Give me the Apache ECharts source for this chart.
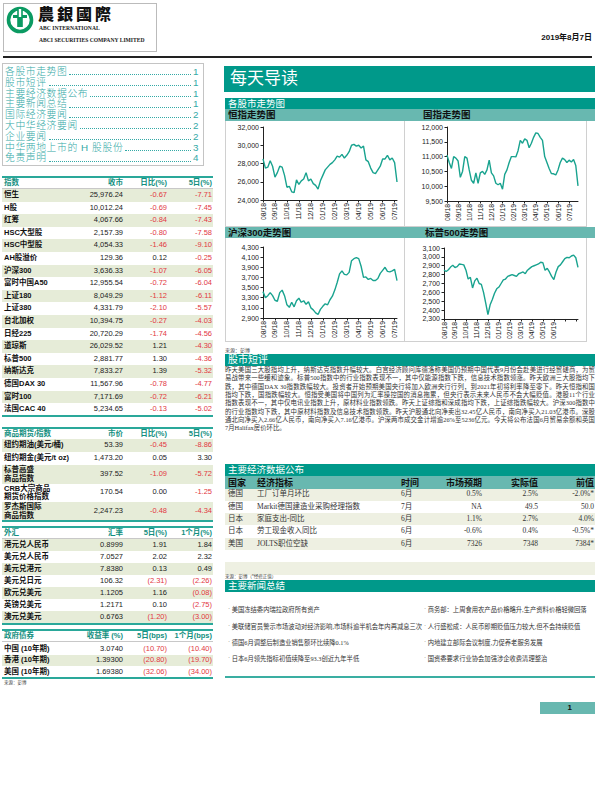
<!DOCTYPE html>
<html><head><meta charset="utf-8">
<script src="https://cdn.jsdelivr.net/npm/echarts@6/dist/echarts.min.js"></script>
<style>
*{margin:0;padding:0;box-sizing:border-box}
body{width:612px;height:792px;position:relative;background:#fff;font-family:Arial,"Liberation Sans","Noto Sans CJK SC",sans-serif;color:#222;overflow:hidden}
.chart{position:absolute}
</style></head>
<body>
<script>
// ---------- DATA ----------
const monthLabels = ['08/18','09/18','10/18','11/18','12/18','01/19','02/19','03/19','04/19','05/19','06/19','07/19'];
const spxMonthLabels = ['08/18','09/18','10/18','11/18','12/18','01/19','02/19','03/19','04/19','05/19','06/19'];
const hsiValues = [28500,27500,27600,28300,27700,26500,27000,27700,27600,26700,25400,25500,24900,24800,26200,25700,26100,26300,27000,26100,26300,25800,25600,25200,26100,26700,27300,27600,27900,28100,28400,28800,28700,29000,28600,28900,29300,30000,30100,29900,30000,29700,29900,28400,28200,27500,27000,26900,27300,27700,28500,28500,28900,28400,28600,28100,25976];
const hsceiValues = [11050,10800,10600,11000,10950,10850,10300,10500,11000,10950,10550,10200,10100,10450,10100,10450,10500,10400,10550,10880,10450,10350,10100,10050,10100,9900,10400,10550,10800,11000,11000,10990,11200,11550,11450,11600,11550,11300,11450,11650,11800,11780,11650,11550,11000,10800,10600,10430,10420,10380,10550,10800,10950,10900,10800,10880,10820,10900,10700,10012];
const csi300Values = [3420,3300,3340,3400,3340,3250,3230,3400,3450,3340,3160,3110,3210,3120,3240,3290,3210,3240,3170,3220,3100,3060,3000,2970,3070,3130,3180,3160,3260,3330,3450,3600,3770,3830,3760,3750,3800,4030,4070,4090,4070,3920,3700,3710,3660,3680,3640,3640,3680,3780,3840,3900,3820,3810,3830,3860,3636];
const spxValues = [2850,2835,2855,2885,2905,2880,2890,2920,2915,2910,2850,2750,2770,2650,2730,2760,2700,2690,2600,2480,2350,2460,2520,2590,2640,2660,2700,2740,2750,2780,2790,2800,2790,2780,2810,2820,2830,2810,2850,2870,2890,2900,2910,2920,2940,2935,2850,2870,2830,2780,2745,2830,2890,2910,2945,2980,2995,2990,3010,3020,2990,2882];

const tocItems = ['各股市走势图','股市短评','主要经济数据公布','主要新闻总结','国际经济要闻','大中华经济要闻','企业要闻','中华两地上市的 H 股股份','免责声明'];
const tocPages = ['1','1','1','1','2','2','2','3','4'];

const idxNames = ['恒生','H股','红筹','HSC大型股','HSC中型股','AH股溢价','沪深300','富时中国A50','上证180','上证380','台北加权','日经225','道琼斯','标普500','纳斯达克','德国DAX 30','富时100','法国CAC 40'];
const idxClose = ['25,976.24','10,012.24','4,067.66','2,157.39','4,054.33','129.36','3,636.33','12,955.54','8,049.29','4,331.79','10,394.75','20,720.29','26,029.52','2,881.77','7,833.27','11,567.96','7,171.69','5,234.65'];
const idxDay = [-0.67,-0.69,-0.84,-0.80,-1.46,0.12,-1.07,-0.72,-1.12,-2.10,-0.27,-1.74,1.21,1.30,1.39,-0.78,-0.72,-0.13];
const idx5d = [-7.71,-7.45,-7.43,-7.58,-9.10,-0.25,-6.05,-6.04,-6.11,-5.57,-4.03,-4.56,-4.30,-4.36,-5.32,-4.77,-6.21,-5.02];

const cmdNames = [['纽约期油(美元/桶)'],['纽约期金(美元/t oz)'],['标普高盛','商品指数'],['CRB大宗商品','期货价格指数'],['罗杰斯国际','商品指数']];
const cmdPrice = ['53.39','1,473.20','397.52','170.54','2,247.23'];
const cmdDay = [-0.45,0.05,-1.09,0.00,-0.48];
const cmd5d = [-8.86,3.30,-5.72,-1.25,-4.34];

const fxNames = ['港元兑人民币','美元兑人民币','美元兑港元','美元兑日元','欧元兑美元','英镑兑美元','澳元兑美元'];
const fxRate = ['0.8999','7.0527','7.8380','106.32','1.1205','1.2171','0.6763'];
const fx5d = [1.91,2.02,0.13,-2.31,1.16,0.10,-1.20];
const fx1m = [1.84,2.32,0.49,-2.26,-0.08,-2.75,-3.00];

const bondNames = ['中国 (10年期)','香港 (10年期)','美国 (10年期)'];
const bondYield = ['3.0740','1.39300','1.69380'];
const bond5d = [-10.70,-20.80,-32.06];
const bond1m = [-10.40,-19.70,-34.00];

const commentLines = [
'昨天美国三大股指均上升，纳斯达克指数升幅较大。白宫经济顾问库德洛称美国仍预期中国代表9月份会赴美进行经贸磋商，为贸',
'易战带来一些缓和迹象。标普500指数中的行业指数表现不一，其中仅能源指数下跌，信息技术指数领涨。昨天欧洲三大股指均下',
'跌，其中德国DAX 30指数跌幅较大。投资者开始预期美国央行将加入欧洲央行行列，到2021年初将利率降至零下。昨天恒指和国',
'指均下跌，国指跌幅较大。恒指受美国将中国列为汇率操控国的消息拖累，但央行表示未来人民币不会大幅贬值。港股11个行业',
'指数表现不一，其中仅电讯业指数上升，原材料业指数领跌。昨天上证综指和深成指均下跌，上证综指跌幅较大。沪深300指数中',
'的行业指数均下跌，其中原材料指数及信息技术指数领跌。昨天沪股通北向净卖出32.45亿人民币，南向净买入21.03亿港币。深股',
'通北向净买入2.66亿人民币，南向净买入7.16亿港币。沪深两市成交金计增逾26%至5236亿元。今天将公布法国6月贸易余额和英国',
'7月Halifax房价环比。'];

const ecoHeader = ['国家','经济指标','时间','市场预期','实际值','前值'];
const ecoCountry = ['德国','德国','日本','日本','美国'];
const ecoIndicator = ['工厂订单月环比','Markit德国建造业采购经理指数','家庭支出-同比','劳工现金收入同比','JOLTS职位空缺'];
const ecoPeriod = ['6月','7月','6月','6月','6月'];
const ecoExpected = ['0.5%','NA','1.1%','-0.6%','7326'];
const ecoActual = ['2.5%','49.5','2.7%','0.4%','7348'];
const ecoPrevious = ['-2.0%*','50.0','4.0%','-0.5%*','7384*'];

const newsLeft = ['美国冻结委内瑞拉政府所有资产','美联储官员警示市场波动对经济影响,市场料逾半机会年内再减息三次','德国6月调整后制造业销售额环比续降0.1%','日本6月领先指标初值续降至93.3创近九年半低'];
const newsRight = ['商务部：上周食用农产品价格略升,生产资料价格轻微回落','人行盛松成：人民币即期贬值压力较大,但不会持续贬值','内地建立部际会议制度,力促养老服务发展','国资委要求行业协会加强涉企收费清理整治'];

// ---------- HELPERS ----------
const TEAL='#00998a', LTEAL='#68b8b0', GREEN='#e6ecd8', RED='#e2383f', LINE='#19a38f';
function el(css, text){ const d=document.createElement('div'); d.style.cssText='position:absolute;'+css; if(text!=null) d.textContent=text; document.body.appendChild(d); return d; }
function box(x,y,w,h,bg,extra){ return el(`left:${x}px;top:${y}px;width:${w}px;height:${h}px;background:${bg};${extra||''}`); }
function txt(t,x,y,o){
  o=o||{}; const size=o.size||8, lh=o.h||size+3;
  const pos = o.align==='right' ? `right:${612-x}px;text-align:right;` : `left:${x}px;`;
  return el(`${pos}top:${y-lh/2}px;line-height:${lh}px;font-size:${size}px;color:${o.color||'#222'};font-weight:${o.weight||'normal'};white-space:nowrap;${o.family?'font-family:'+o.family+';':''}`,t);
}
const fmt=v=>v.toFixed(2);
const fmtP=v=>v<0?'('+Math.abs(v).toFixed(2)+')':v.toFixed(2);
const colOf=v=>v<0?RED:'#222';

// ---------- HEADER ----------
box(3,3,154,49,'#fff','border:1px solid #bbb;');
el('left:6px;top:6px;width:28px;height:28px;',null).innerHTML='<svg width="28" height="28" viewBox="0 0 28 28"><circle cx="14" cy="14" r="11.5" fill="none" stroke="#0b9a62" stroke-width="3.6"/><rect x="11.2" y="2" width="5.6" height="19" fill="#0b9a62"/><rect x="7" y="9" width="14" height="3" fill="#0b9a62"/><rect x="12.8" y="3" width="2.4" height="8" fill="#fff"/></svg>';
txt('農銀國際',38,13,{size:16,weight:'900',color:'#111',h:18,family:'"Noto Sans CJK TC",serif'}).style.letterSpacing='3px';
txt('ABC INTERNATIONAL',39,28,{size:5.6,weight:'bold',color:'#222',family:'"Liberation Serif",serif'});
txt('ABCI SECURITIES COMPANY LIMITED',39,40,{size:5.6,weight:'bold',color:'#222',family:'"Liberation Serif",serif'});
txt('2019年8月7日',592,37,{size:8,weight:'bold',align:'right',color:'#111'});
box(3,56,589,1.5,'#222');

// ---------- TOC ----------
box(2,63,202,103,'#fff','border:1px solid #c4c4c4;');
tocItems.forEach((t,i)=>{
  const d=el(`left:5px;top:${67+i*10.8}px;width:194px;height:10.8px;display:flex;align-items:flex-end;font-size:9.8px;line-height:10.8px;letter-spacing:0.6px;color:#33a9a6;white-space:nowrap;font-weight:300;`);
  d.innerHTML=`<span>${t}</span><span style="flex:1;border-bottom:1.2px dotted #33a9a6;margin:0 2px 2.5px 2px"></span><span>${tocPages[i]}</span>`;
});

// ---------- LEFT TABLES ----------
const C2=123,C3=167,C4=212;
function tableHead(y,labels){
  box(2,y,211,2,'#2aa89a');
  txt(labels[0],4,y+7,{size:7.5,weight:'bold',color:'#138f80'});
  txt(labels[1],C2,y+7,{size:7.5,weight:'bold',color:'#138f80',align:'right'});
  txt(labels[2],C3,y+7,{size:7.5,weight:'bold',color:'#138f80',align:'right'});
  txt(labels[3],C4,y+7,{size:7.5,weight:'bold',color:'#138f80',align:'right'});
  box(2,y+12,211,0.8,'#c8c8c8');
}
tableHead(176,['指数','收市','日比(%)','5日(%)']);
idxNames.forEach((n,i)=>{
  const top=189+i*12.6, cy=top+6.3;
  if(i%2===0) box(2,top,211,12.6,GREEN);
  txt(n,4,cy,{size:7.5,weight:'bold',color:'#111'});
  txt(idxClose[i],C2,cy,{size:7.5,align:'right'});
  txt(fmt(idxDay[i]),C3,cy,{size:7.5,align:'right',color:colOf(idxDay[i])});
  txt(fmt(idx5d[i]),C4,cy,{size:7.5,align:'right',color:colOf(idx5d[i])});
});
box(2,415,211,2,'#2aa89a');
tableHead(427,['商品期货/指数','市价','日比(%)','5日(%)']);
const cmdH=[13,13,18.5,18,19]; let cy0=439;
cmdNames.forEach((n,i)=>{
  const h=cmdH[i], cy=cy0+h/2;
  if(i%2===0) box(2,cy0,211,h,GREEN);
  if(n.length===1) txt(n[0],4,cy,{size:7.5,weight:'bold',color:'#111'});
  else { txt(n[0],4,cy-4.4,{size:7.5,weight:'bold',color:'#111',h:9}); txt(n[1],4,cy+4.4,{size:7.5,weight:'bold',color:'#111',h:9}); }
  txt(cmdPrice[i],C2,cy,{size:7.5,align:'right'});
  txt(fmt(cmdDay[i]),C3,cy,{size:7.5,align:'right',color:colOf(cmdDay[i])});
  txt(fmt(cmd5d[i]),C4,cy,{size:7.5,align:'right',color:colOf(cmd5d[i])});
  cy0+=h;
});
box(2,520,211,2,'#2aa89a');
tableHead(526,['外汇','汇率','5日(%)','1个月(%)']);
fxNames.forEach((n,i)=>{
  const top=539+i*12, cy=top+6;
  if(i%2===0) box(2,top,211,12,GREEN);
  txt(n,4,cy,{size:7.5,weight:'bold',color:'#111'});
  txt(fxRate[i],C2,cy,{size:7.5,align:'right'});
  txt(fmtP(fx5d[i]),C3,cy,{size:7.5,align:'right',color:colOf(fx5d[i])});
  txt(fmtP(fx1m[i]),C4,cy,{size:7.5,align:'right',color:colOf(fx1m[i])});
});
box(2,623,211,2,'#2aa89a');
tableHead(629,['政府债券','收益率 (%)','5日(bps)','1个月(bps)']);
bondNames.forEach((n,i)=>{
  const top=643+i*11.5, cy=top+5.75;
  if(i%2===1) box(2,top,211,11.5,GREEN);
  txt(n,4,cy,{size:7.5,weight:'bold',color:'#111'});
  txt(bondYield[i],C2,cy,{size:7.5,align:'right'});
  txt(fmtP(bond5d[i]),C3,cy,{size:7.5,align:'right',color:colOf(bond5d[i])});
  txt(fmtP(bond1m[i]),C4,cy,{size:7.5,align:'right',color:colOf(bond1m[i])});
});
box(2,677,211,2,'#2aa89a');
txt('来源：彭博',4,682,{size:4.5,color:'#444',h:5});

// ---------- RIGHT COLUMN ----------
box(224,66,371,26,TEAL);
txt('每天导读',230,79,{size:17,color:'#fff',h:22});
box(225,98,370,11,TEAL); txt('各股市走势图',228,103.5,{size:9.5,color:'#fff',h:11});
box(225,109,180,12,LTEAL); txt('恒指走势图',228,115,{size:9.5,color:'#111',weight:'bold',h:12});
box(405,109,190,12,LTEAL); txt('国指走势图',423,115,{size:9.5,color:'#111',weight:'bold',h:12});
box(225,121,180,106,'#fff','border:1px solid #d0d0d0;border-top:none;');
box(405,121,182,106,'#fff','border:1px solid #d0d0d0;border-top:none;border-left:none;');
box(225,227,180,11,LTEAL); txt('沪深300走势图',228,232.5,{size:9.5,color:'#111',weight:'bold',h:11});
box(405,227,190,11,LTEAL); txt('标普500走势图',425,232.5,{size:9.5,color:'#111',weight:'bold',h:11});
box(225,238,180,104,'#fff','border:1px solid #d0d0d0;border-top:none;');
box(405,238,182,104,'#fff','border:1px solid #d0d0d0;border-top:none;border-left:none;');
txt('来源：彭博',225,350,{size:5,color:'#444',h:6});
box(225,354,370,12,TEAL); txt('股市短评',228,360,{size:10,color:'#fff',h:12});
commentLines.forEach((l,i)=>{
  el(`left:225px;top:${366+i*8.3}px;width:370px;font-size:6.4px;line-height:8px;color:#333;text-align:justify;text-align-last:${i<7?'justify':'left'};white-space:nowrap;font-family:"Liberation Serif","Noto Sans CJK SC",serif;`,l);
});

box(225,464,370,12,TEAL); txt('主要经济数据公布',228,470,{size:9.5,color:'#fff',h:12});
box(225,476,370,12.5,LTEAL);
const ecoX=[228,257,401,482,538,594], ecoAl=['left','left','left','right','right','right'];
ecoHeader.forEach((h,j)=>txt(h,ecoX[j],482.5,{size:9,weight:'bold',color:'#111',align:ecoAl[j],h:12}));
const ecoCols=[ecoCountry,ecoIndicator,ecoPeriod,ecoExpected,ecoActual,ecoPrevious];
for(let i=0;i<7;i++){
  const top=488.5+i*12.3, cy=top+6.15;
  if(i%2===0) box(225,top,370,12.3,'#eef0e2');
  if(i<5) ecoCols.forEach((c,j)=>txt(c[i],ecoX[j],cy,{size:7.5,color:'#333',align:ecoAl[j],family:'"Liberation Serif","Noto Sans CJK SC",serif'}));
}
txt('来源：彭博（*经修正值）',225,576.5,{size:4.5,color:'#444',h:5});
box(225,580,370,12,TEAL); txt('主要新闻总结',228,586,{size:9.5,color:'#fff',h:12});
const newsY=[610,626.5,643,659];
newsLeft.forEach((t,i)=>txt('˙ '+t,228,newsY[i],{size:6.3,color:'#333',family:'"Liberation Serif","Noto Sans CJK SC",serif'}));
newsRight.forEach((t,i)=>txt('˙ '+t,424,newsY[i],{size:6.3,color:'#333',family:'"Liberation Serif","Noto Sans CJK SC",serif'}));
box(225,676,370,1.5,'#3aaea2');
box(540,702,55,12,LTEAL); txt('1',567.5,708,{size:8,weight:'bold',color:'#111',h:12});

// ---------- CHARTS ----------
function lineChart(x,y,w,h,grid,values,labels,ymin,ymax,step){
  const d=el(`left:${x}px;top:${y}px;width:${w}px;height:${h}px;`);
  d.className='chart';
  const ch=echarts.init(d,null,{renderer:'svg',width:w,height:h});
  ch.setOption({
    animation:false,
    grid:Object.assign({containLabel:false},grid),
    xAxis:{type:'category',boundaryGap:false,data:values.map((v,i)=>String(i)),
      axisLine:{lineStyle:{color:'#222',width:1}},
      axisTick:{show:true,interval:4,length:2.5,lineStyle:{color:'#222'}},
      axisLabel:{interval:4,rotate:90,fontSize:6.8,color:'#222',fontFamily:'Arial',margin:3,
        formatter:(v,i)=>labels[i/5]||''}},
    yAxis:{type:'value',min:ymin,max:ymax,interval:step,
      axisLine:{show:true,lineStyle:{color:'#222',width:1}},
      axisTick:{show:true,length:2.5,lineStyle:{color:'#222'}},
      splitLine:{show:false},
      axisLabel:{fontSize:7,color:'#222',fontFamily:'Arial',margin:4,formatter:v=>v.toLocaleString('en-US')}},
    series:[{type:'line',data:values,showSymbol:false,symbol:'none',lineStyle:{color:LINE,width:1.4}}]
  });
}
lineChart(225,121,180,106,{left:38,top:6,width:134,height:73},hsiValues,monthLabels,24000,32000,2000);
lineChart(405,121,182,106,{left:42,top:6,width:131,height:74},hsceiValues,monthLabels,9500,12000,500);
lineChart(225,238,180,104,{left:38,top:9,width:134,height:71},csi300Values,monthLabels,2900,4300,200);
lineChart(405,238,182,104,{left:39,top:10,width:134,height:71},spxValues,spxMonthLabels,2300,3100,100);
</script>
</body></html>
